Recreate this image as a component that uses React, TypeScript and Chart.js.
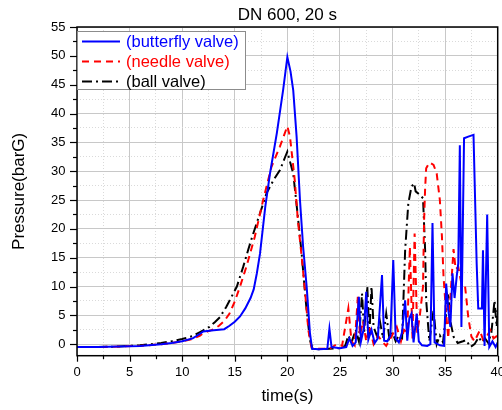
import React, { useEffect, useRef } from 'react';
import { Chart, registerables } from 'chart.js';

Chart.register(...registerables);

const chartTitle = 'DN 600, 20 s';
const xAxisTitle = 'time(s)';
const yAxisTitle = 'Pressure(barG)';
const seriesNames = ['(butterfly valve)', '(needle valve)', '(ball valve)'];
const seriesColors = ['#0000ff', '#ff0000', '#000000'];

const xMajorTicks = [0, 5, 10, 15, 20, 25, 30, 35, 40];
const yMajorTicks = [0, 5, 10, 15, 20, 25, 30, 35, 40, 45, 50, 55];

const butterflyTime = [0, 2, 4, 6, 8, 9, 10, 11, 11.7, 12, 13, 14, 14.5, 15, 15.5, 16, 16.5, 16.8, 17.1, 17.4, 17.9, 18.35, 19, 19.6, 20, 20.3, 20.56, 20.88, 21.2, 21.5, 21.84, 22.15, 22.35, 23, 23.8, 24, 24.2, 25, 25.6, 25.9, 26.2, 26.5, 26.8, 27.0, 27.3, 27.5, 27.7, 28, 28.3, 28.6, 29.0, 29.2, 29.5, 29.8, 30.07, 30.3, 30.6, 30.9, 31.2, 31.4, 31.6, 31.8, 32.0, 32.3, 32.5, 32.8, 33.3, 33.6, 33.8, 34.0, 34.5, 34.9, 35.1, 35.3, 35.5, 35.7, 35.9, 36.1, 36.25, 36.4, 36.55, 36.8, 37.2, 37.7, 38.0, 38.15, 38.5, 38.6, 38.75, 39.0, 39.2, 39.5, 39.8, 40];
const butterflyPressure = [-0.5, -0.5, -0.4, -0.3, 0.0, 0.2, 0.5, 1.0, 1.8, 2.2, 2.4, 2.6, 3.2, 3.9, 4.8, 6.2, 8.0, 9.5, 12.3, 15.7, 23.8, 29.6, 36.6, 44.1, 49.8, 47.3, 44.0, 36.0, 25.0, 16.9, 9.9, 1.9, -0.8, -0.9, -0.8, 2.7, -0.5, -0.7, -0.5, 1.0, -0.3, 0.3, 8.2, 0.5, 3.0, 9.1, 0.8, 2.5, 0.2, 1.0, 12.0, 0.6, 0.5, 1.5, 14.6, 1.0, 0.3, 2.0, 7.6, 0.6, 4.5, 5.3, 0.3, 5.3, 0.5, -0.2, -0.3, 0.0, 21.0, 0.3, -0.2, -0.3, 10.5, 6.0, 3.0, 12.3, 8.0, 11.7, 14.0, 34.5, 3.0, 35.7, 36.0, 36.3, 14.0, 6.2, 6.2, 16.3, -0.3, 22.5, -0.5, 0.5, -0.5, 0.3];

const needleTime = [0, 2, 4, 6, 8, 9, 10, 11, 11.7, 12, 13, 13.5, 14, 14.5, 15, 15.5, 16.1, 16.9, 17.7, 18.5, 19.3, 20, 20.25, 20.7, 21.0, 21.36, 21.7, 22.0, 22.3, 23, 24, 24.7, 25.2, 25.8, 26.1, 26.4, 26.7, 26.9, 27.2, 27.5, 27.8, 28.2, 28.6, 29.0, 29.4, 29.8, 30.4, 30.8, 31.1, 31.4, 31.65, 31.9, 32.1, 32.35, 32.6, 32.9, 33.0, 33.1, 33.2, 33.5, 33.9, 34.2, 34.5, 34.7, 34.85, 35.1, 35.3, 35.5, 35.8, 36.0, 36.25, 36.5, 36.9, 37.2, 37.5, 37.8, 38.3, 38.6, 39.0, 39.3, 39.6, 40];
const needlePressure = [-0.5, -0.5, -0.4, -0.3, 0.0, 0.2, 0.5, 0.9, 1.5, 1.9, 2.6, 3.2, 4.0, 5.3, 7.4, 10.0, 13.4, 18.6, 25.0, 30.8, 34.3, 37.8, 36.0, 28.5, 21.5, 15.2, 8.8, 2.4, -0.6, -0.8, -0.8, 0.0, -0.3, 6.2, 0.5, -0.2, 8.2, 1.5, 4.0, 0.5, 3.0, 0.0, 1.5, 0.5, -0.3, 1.0, 3.0, 0.5, 2.5, 2.0, 16.9, 1.0, 19.2, 2.0, 5.0, 10.0, 21.5, 27.0, 30.5, 31.5, 31.1, 29.6, 25.0, 18.6, 11.7, 5.3, 1.0, 8.0, 16.5, 13.0, 13.4, 11.0, 10.0, 4.7, 1.3, 0.5, 2.4, 0.8, 1.5, 2.4, 1.0, 1.5];

const ballTime = [0, 2, 4, 6, 8, 9, 10, 11, 11.7, 12, 12.6, 13.1, 13.6, 14.2, 14.86, 15.2, 15.8, 16.3, 16.76, 17.4, 18.03, 18.7, 19.3, 19.8, 20, 20.2, 20.56, 21.0, 21.36, 21.8, 22.15, 22.4, 23, 24, 25, 25.5, 25.8, 26.1, 26.5, 26.8, 27.1, 27.3, 27.6, 27.8, 28.0, 28.2, 28.5, 28.8, 29.1, 29.4, 29.7, 30.0, 30.3, 30.6, 30.9, 31.2, 31.5, 31.8, 32.05, 32.2, 32.6, 32.9, 33.1, 33.2, 33.5, 33.9, 34.2, 34.5, 34.8, 35.3, 35.5, 35.8, 36.2, 36.7, 37.0, 37.4, 37.8, 38.2, 38.5, 38.8, 39.1, 39.4, 39.7, 39.9, 40];
const ballPressure = [-0.5, -0.5, -0.4, -0.2, 0.2, 0.5, 0.9, 1.4, 2.1, 2.4, 3.0, 3.8, 4.7, 6.5, 8.8, 10.0, 13.4, 16.5, 19.2, 22.7, 26.2, 28.5, 30.2, 32.5, 33.4, 32.0, 29.6, 22.1, 15.7, 6.5, 0.7, -0.8, -0.9, -0.8, -0.7, -0.3, 1.5, 0.3, 2.5, 0.5, 8.8, 2.0, 10.0, 1.5, 10.0, 3.0, 1.5, 4.0, 1.0, 5.3, 1.0, 2.0, 0.5, 1.5, 0.5, 16.3, 24.4, 27.3, 27.9, 26.5, 25.9, 25.3, 16.3, 7.6, 0.5, 5.9, 0.0, 1.5, 0.3, 8.8, 4.0, 1.3, 0.2, 0.5, 0.7, -0.5, 0.0, 1.2, 0.3, 1.0, 0.2, 2.0, 7.6, 3.0, 6.0];

const FONT = "'Liberation Sans', Arial, Helvetica, sans-serif";

function withMinors(majors: number[]): number[] {
  const out: number[] = [];
  for (let i = 0; i < majors.length; i++) {
    out.push(majors[i]);
    if (i < majors.length - 1) out.push((majors[i] + majors[i + 1]) / 2);
  }
  return out;
}

const isMajor = (v: number) => Math.abs(v % 5) < 1e-9;

const framePlugin = {
  id: 'frameAndLegend',
  afterDatasetsDraw(chart: any) {
    const { ctx, chartArea } = chart;
    const { left, right, top, bottom } = chartArea;
    const xs = chart.scales.x;
    const ys = chart.scales.y;
    ctx.save();
    ctx.strokeStyle = '#000';
    ctx.lineWidth = 1.2;
    for (const v of withMinors(xMajorTicks)) {
      const px = Math.round(xs.getPixelForValue(v)) + 0.5;
      const len = isMajor(v) ? 6 : 3.5;
      ctx.beginPath();
      ctx.moveTo(px, bottom);
      ctx.lineTo(px, bottom + len);
      ctx.stroke();
    }
    for (const v of withMinors(yMajorTicks)) {
      const py = Math.round(ys.getPixelForValue(v)) + 0.5;
      const len = isMajor(v) ? 7 : 4;
      ctx.beginPath();
      ctx.moveTo(left, py);
      ctx.lineTo(left - len, py);
      ctx.stroke();
    }
    ctx.lineWidth = 1.5;
    ctx.strokeStyle = '#000';
    ctx.strokeRect(left, top, right - left, bottom - top);

    const lx = left;
    const ly = top + 4;
    const lw = 169;
    const lh = 59;
    ctx.fillStyle = '#ffffff';
    ctx.fillRect(lx, ly, lw, lh);
    ctx.lineWidth = 1;
    ctx.strokeStyle = '#8c8c8c';
    ctx.strokeRect(lx + 0.5, ly + 0.5, lw - 1, lh - 1);
    const dashes = [[], [7, 5], [10, 4, 2, 4]];
    ctx.font = `16.5px ${FONT}`;
    ctx.textBaseline = 'middle';
    ctx.textAlign = 'left';
    for (let i = 0; i < seriesNames.length; i++) {
      const y = ly + 10.5 + i * 20;
      ctx.beginPath();
      ctx.setLineDash(dashes[i]);
      ctx.lineWidth = 2;
      ctx.strokeStyle = seriesColors[i];
      ctx.moveTo(lx + 5, y);
      ctx.lineTo(lx + 43, y);
      ctx.stroke();
      ctx.setLineDash([]);
      ctx.fillStyle = seriesColors[i];
      ctx.fillText(seriesNames[i], lx + 49, y + 0.5);
    }
    ctx.restore();
  },
};

export default function App() {
  const canvasRef = useRef<HTMLCanvasElement | null>(null);

  useEffect(() => {
    const canvas = canvasRef.current;
    if (!canvas) return;
    const toPoints = (t: number[], p: number[]) => t.map((x, i) => ({ x, y: p[i] }));
    const xTicks = withMinors(xMajorTicks);
    const yTicks = withMinors(yMajorTicks);

    const gridColor = (ctx: any) => (ctx.tick && isMajor(ctx.tick.value) ? '#c8c8c8' : '#dadada');
    const gridDash = (ctx: any) => (ctx.tick && isMajor(ctx.tick.value) ? [] : [1, 2]);

    const chart = new Chart(canvas, {
      type: 'line',
      data: {
        datasets: [
          {
            label: seriesNames[0],
            data: toPoints(butterflyTime, butterflyPressure),
            borderColor: seriesColors[0],
            backgroundColor: seriesColors[0],
            borderWidth: 2,
            pointRadius: 0,
            tension: 0,
          },
          {
            label: seriesNames[1],
            data: toPoints(needleTime, needlePressure),
            borderColor: seriesColors[1],
            backgroundColor: seriesColors[1],
            borderWidth: 2,
            borderDash: [7, 5],
            pointRadius: 0,
            tension: 0,
          },
          {
            label: seriesNames[2],
            data: toPoints(ballTime, ballPressure),
            borderColor: seriesColors[2],
            backgroundColor: seriesColors[2],
            borderWidth: 2,
            borderDash: [10, 4, 2, 4],
            pointRadius: 0,
            tension: 0,
          },
        ],
      },
      options: {
        responsive: false,
        animation: false,
        events: [],
        layout: { autoPadding: false, padding: { left: 0, right: 4.3, top: 0, bottom: 0 } },
        plugins: {
          legend: { display: false },
          tooltip: { enabled: false },
          title: {
            display: true,
            text: chartTitle,
            fullSize: false,
            color: '#000',
            font: { family: FONT, size: 17, weight: 'normal' },
            padding: { top: 5, bottom: 1.6 },
          },
        },
        scales: {
          x: {
            type: 'linear',
            min: 0,
            max: 40,
            afterBuildTicks: (scale: any) => {
              scale.ticks = xTicks.map((value) => ({ value }));
            },
            afterFit: (scale: any) => {
              scale.height = 54.3;
              scale.paddingLeft = 0;
              scale.paddingRight = 0;
            },
            ticks: {
              autoSkip: false,
              maxRotation: 0,
              color: '#000',
              padding: 9,
              font: { family: FONT, size: 13 },
              callback: (v: any) => (isMajor(Number(v)) ? String(v) : ''),
            },
            grid: { color: gridColor, lineWidth: 1, drawTicks: false },
            border: { display: false, dash: gridDash },
            title: {
              display: true,
              text: xAxisTitle,
              color: '#000',
              font: { family: FONT, size: 17 },
              padding: { top: 0, bottom: 3 },
            },
          },
          y: {
            type: 'linear',
            min: -2,
            max: 55,
            afterBuildTicks: (scale: any) => {
              scale.ticks = yTicks.map((value) => ({ value }));
            },
            afterFit: (scale: any) => {
              scale.width = 77;
              scale.paddingTop = 0;
              scale.paddingBottom = 0;
            },
            ticks: {
              autoSkip: false,
              color: '#000',
              padding: 11.5,
              font: { family: FONT, size: 13 },
              callback: (v: any) => (isMajor(Number(v)) ? String(v) : ''),
            },
            grid: { color: gridColor, lineWidth: 1, drawTicks: false },
            border: { display: false, dash: gridDash },
            title: {
              display: true,
              text: yAxisTitle,
              color: '#000',
              font: { family: FONT, size: 17 },
              padding: { top: 9, bottom: 0 },
            },
          },
        },
      },
      plugins: [framePlugin],
    } as any);

    return () => chart.destroy();
  }, []);

  return (
    <div style={{ position: 'fixed', left: 0, top: 0, width: 502, height: 410, background: '#ffffff' }}>
      <canvas ref={canvasRef} width={502} height={410} style={{ display: 'block', width: 502, height: 410 }} />
    </div>
  );
}
